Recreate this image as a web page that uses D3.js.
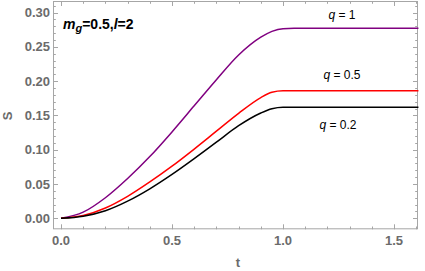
<!DOCTYPE html>
<html>
<head>
<meta charset="utf-8">
<script src="https://cdn.jsdelivr.net/npm/d3@7"></script>
<style>
  body { margin: 0; background: #fff; }
  svg { display: block; font-family: "Liberation Sans", Arial, sans-serif; }
</style>
</head>
<body>
<svg id="chart" width="425" height="271"></svg>
<script>
// Values
var tValues = [0, 0.1, 0.2, 0.3, 0.4, 0.5, 0.6, 0.7, 0.8, 0.9, 0.95, 1.0, 1.05, 1.61];
var sQ1   = [0, 0.009, 0.030, 0.058, 0.090, 0.126, 0.164, 0.202, 0.238, 0.264, 0.2725, 0.2765, 0.277, 0.277];
var sQ05  = [0, 0.004, 0.015, 0.032, 0.053, 0.076, 0.101, 0.127, 0.153, 0.176, 0.1838, 0.186, 0.186, 0.186];
var sQ02  = [0, 0.003, 0.011, 0.025, 0.043, 0.064, 0.087, 0.111, 0.135, 0.1535, 0.1598, 0.162, 0.162, 0.162];

var seriesNames  = ["q = 1", "q = 0.5", "q = 0.2"];
var seriesColors = ["#800080", "#ff0000", "#000000"];

var xMajor = [0, 0.5, 1.0, 1.5];
var yMajor = [0, 0.05, 0.10, 0.15, 0.20, 0.25, 0.30];

var svg = d3.select("#chart");

// Plot frame (note: "top" is reserved on window, so use a plain object)
var frame = {left: 53, right: 418, top: 1, bottom: 229.3};

var x = d3.scaleLinear()
    .domain([-0.036, 1.608])
    .range([frame.left, frame.right]);

var y = d3.scaleLinear()
    .domain([-0.016, 0.3168])
    .range([frame.bottom, frame.top]);

var frameColor = "#a6a6a6";
var labelColor = "#6b6b6b";

// Minor / major ticks on all four sides (inward)
var xMinor = d3.range(0, 1.61, 0.1);
var yMinor = d3.range(0, 0.311, 0.01);

var ticks = svg.append("g").attr("stroke", frameColor).attr("stroke-width", 1);

function isMajor(v, step) {
    return Math.abs(v / step - Math.round(v / step)) < 1e-6;
}

xMinor.forEach(function(v) {
    var len = isMajor(v, 0.5) ? 5 : 2.8;
    var px = Math.round(x(v)) + 0.5;
    ticks.append("line").attr("x1", px).attr("x2", px)
        .attr("y1", frame.bottom).attr("y2", frame.bottom - len);
    ticks.append("line").attr("x1", px).attr("x2", px)
        .attr("y1", frame.top).attr("y2", frame.top + len);
});

yMinor.forEach(function(v) {
    var len = isMajor(v, 0.05) ? 5 : 2.8;
    var py = Math.round(y(v)) + 0.5;
    ticks.append("line").attr("x1", frame.left).attr("x2", frame.left + len)
        .attr("y1", py).attr("y2", py);
    ticks.append("line").attr("x1", frame.right).attr("x2", frame.right - len)
        .attr("y1", py).attr("y2", py);
});

svg.append("rect")
    .attr("x", frame.left + 0.5)
    .attr("y", frame.top + 0.5)
    .attr("width", frame.right - frame.left - 1)
    .attr("height", frame.bottom - frame.top - 1)
    .attr("fill", "none")
    .attr("stroke", frameColor)
    .attr("stroke-width", 1);

// Tick labels
svg.append("g").selectAll("text")
    .data(xMajor)
    .join("text")
    .attr("x", function(d) { return x(d); })
    .attr("y", 245)
    .attr("text-anchor", "middle")
    .attr("font-size", 13)
    .attr("font-weight", "bold")
    .attr("fill", labelColor)
    .text(function(d) { return d.toFixed(1); });

svg.append("g").selectAll("text")
    .data(yMajor)
    .join("text")
    .attr("x", 50)
    .attr("y", function(d) { return y(d) + 4.5; })
    .attr("text-anchor", "end")
    .attr("font-size", 13)
    .attr("font-weight", "bold")
    .attr("fill", labelColor)
    .text(function(d) { return d.toFixed(2); });

// Axis labels
svg.append("text")
    .attr("x", 238)
    .attr("y", 267)
    .attr("text-anchor", "middle")
    .attr("font-size", 13)
    .attr("font-weight", "bold")
    .attr("fill", labelColor)
    .text("t");

svg.append("text")
    .attr("transform", "translate(12,116) rotate(-90)")
    .attr("text-anchor", "middle")
    .attr("font-size", 13)
    .attr("font-weight", "bold")
    .attr("fill", labelColor)
    .text("S");

// Curves
var line = d3.line()
    .x(function(d) { return x(d[0]); })
    .y(function(d) { return y(d[1]); })
    .curve(d3.curveMonotoneX);

[sQ1, sQ05, sQ02].forEach(function(vals, i) {
    var pts = tValues.map(function(t, j) { return [t, vals[j]]; });
    svg.append("path")
        .datum(pts)
        .attr("fill", "none")
        .attr("stroke", seriesColors[i])
        .attr("stroke-width", 1.5)
        .attr("d", line);
});

// Curve labels
var labelPos = [[342, 19], [342, 79], [338, 129]];
seriesNames.forEach(function(name, i) {
    var txt = svg.append("text")
        .attr("x", labelPos[i][0])
        .attr("y", labelPos[i][1])
        .attr("text-anchor", "middle")
        .attr("font-size", 12)
        .attr("fill", "#000");
    txt.append("tspan").attr("font-style", "italic").text("q");
    txt.append("tspan").text(name.slice(1));
});

// Parameter annotation
var note = svg.append("text")
    .attr("x", 63)
    .attr("y", 29)
    .attr("font-size", 14)
    .attr("font-weight", "bold")
    .attr("fill", "#000");
note.append("tspan").attr("font-style", "italic").text("m");
note.append("tspan").attr("font-style", "italic").attr("font-size", 11).attr("dy", 3).text("g");
note.append("tspan").attr("dy", -3).text("=0.5,");
note.append("tspan").attr("font-style", "italic").text("l");
note.append("tspan").text("=2");
</script>
</body>
</html>
